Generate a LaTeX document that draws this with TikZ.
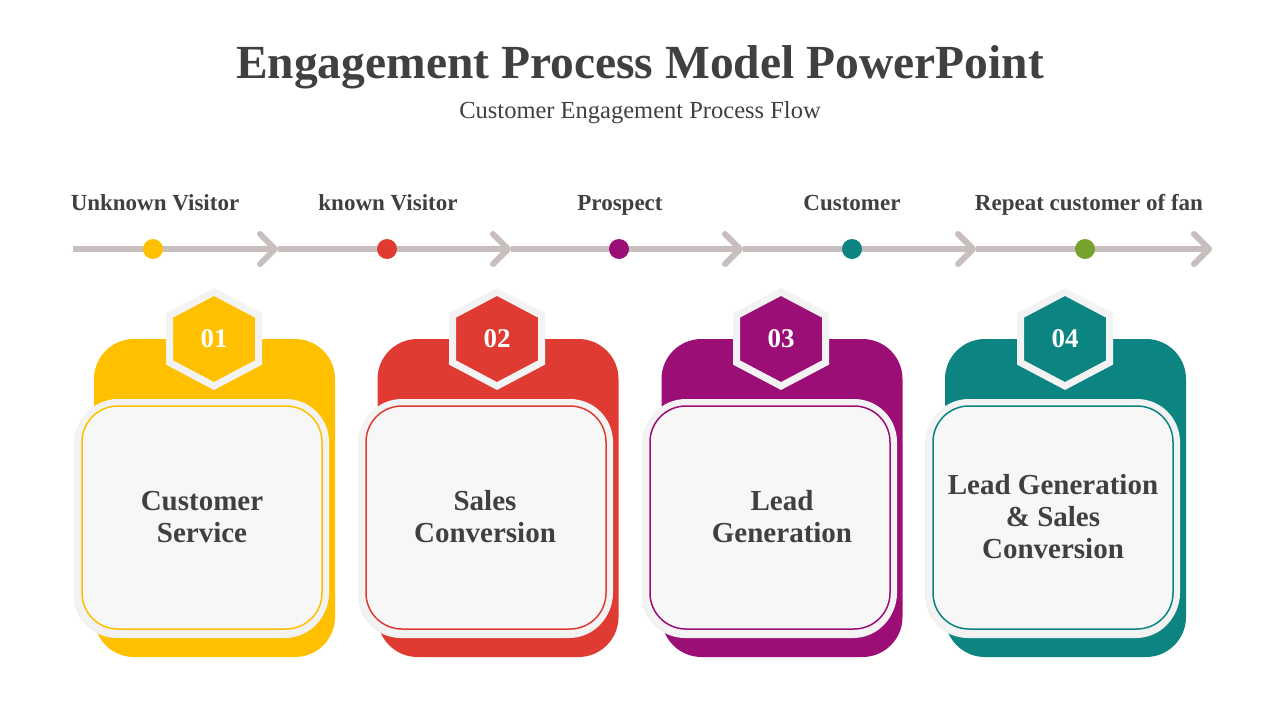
\documentclass[tikz,border=0pt]{standalone}
\usepackage{fontspec}
\setmainfont{Liberation Serif}
\usepackage{xcolor}
\usepackage{tikz}
\usetikzlibrary{arrows.meta, positioning}

\definecolor{yellowc}{HTML}{FFC000}
\definecolor{redc}{HTML}{E03B33}
\definecolor{purplec}{HTML}{9B0E76}
\definecolor{tealc}{HTML}{0C8582}
\definecolor{greenc}{HTML}{77A22D}
\definecolor{trackc}{HTML}{C8BEBE}
\definecolor{textc}{HTML}{404040}
\definecolor{cardbg}{HTML}{F7F7F7}
\definecolor{rimc}{HTML}{F3F3F3}

\begin{document}
\begin{tikzpicture}[x=1pt, y=-1pt,
    track/.style={draw=trackc, line width=6pt, -{Straight Barb[length=15pt, width=30pt, round]}},
    dot/.style={circle, fill=#1, minimum size=20pt, inner sep=0pt},
    stage/.style={anchor=base, font=\fontsize{23}{26}\selectfont\bfseries, text=textc},
    backcard/.style={rectangle, rounded corners=40pt, fill=#1, minimum width=241pt, minimum height=318pt, inner sep=0pt},
    frontcard/.style={rectangle, rounded corners=36pt, fill=cardbg, draw=#1, line width=1.5pt,
        minimum width=240pt, minimum height=223pt, inner sep=0pt,
        preaction={draw=black!6, line width=14pt, transform canvas={xshift=-1pt, yshift=-2pt}},
        preaction={draw=rimc, line width=14pt}},
    hexbadge/.style={fill=#1, draw=rimc, line width=7pt, line join=miter},
    num/.style={font=\fontsize{27}{30}\selectfont\bfseries, text=white},
    cardtxt/.style={font=\fontsize{29}{32}\selectfont\bfseries, text=textc, align=center}]
    \def\hexpath{++(0,-47) -- ++(44.5,23.5) -- ++(0,47) -- ++(-44.5,23.5) -- ++(-44.5,-23.5) -- ++(0,-47) -- cycle};
    \fill[white] (0,0) rectangle (1280,720);
    \useasboundingbox (0,0) rectangle (1280,720);
    \node[anchor=base, font=\fontsize{47.5}{52}\selectfont\bfseries, text=textc] (title) at (640,78) {Engagement Process Model PowerPoint};
    \node[anchor=base, font=\fontsize{24.5}{28}\selectfont, text=textc] (subtitle) at (640,118) {Customer Engagement Process Flow};
    \coordinate (t0) at (73,249);
    \coordinate (t1) at (278,249);
    \coordinate (t2) at (511,249);
    \coordinate (t3) at (743,249);
    \coordinate (t4) at (976,249);
    \coordinate (t5) at (1212,249);
    \draw[track] (t0) -- (t1);
    \draw[track] (t1) -- (t2);
    \draw[track] (t2) -- (t3);
    \draw[track] (t3) -- (t4);
    \draw[track] (t4) -- (t5);
    \node[dot=yellowc] (d1) at (153,249) {};
    \node[dot=redc] (d2) at (387,249) {};
    \node[dot=purplec] (d3) at (619,249) {};
    \node[dot=tealc] (d4) at (852,249) {};
    \node[dot=greenc] (d5) at (1085,249) {};
    \node[stage] (s1) at (155,210) {Unknown Visitor};
    \node[stage] (s2) at (388,210) {known Visitor};
    \node[stage] (s3) at (620,210) {Prospect};
    \node[stage] (s4) at (852,210) {Customer};
    \node[stage] (s5) at (1089,210) {Repeat customer of fan};
    \node[backcard=yellowc] (b1) at (214.5,498) {};
    \node[frontcard=yellowc] (c1) at (202,517.5) {};
    \node[cardtxt] (x1) at (202,517) {Customer\\Service};
    \coordinate (h1) at (214,339);
    \draw[hexbadge=yellowc] (h1) \hexpath;
    \node[num] (n1) at (h1) {01};
    \node[backcard=redc] (b2) at (498,498) {};
    \node[frontcard=redc] (c2) at (486,517.5) {};
    \node[cardtxt] (x2) at (485,517) {Sales\\Conversion};
    \coordinate (h2) at (497,339);
    \draw[hexbadge=redc] (h2) \hexpath;
    \node[num] (n2) at (h2) {02};
    \node[backcard=purplec] (b3) at (782,498) {};
    \node[frontcard=purplec] (c3) at (770,517.5) {};
    \node[cardtxt] (x3) at (782,517) {Lead\\Generation};
    \coordinate (h3) at (781,339);
    \draw[hexbadge=purplec] (h3) \hexpath;
    \node[num] (n3) at (h3) {03};
    \node[backcard=tealc] (b4) at (1065.5,498) {};
    \node[frontcard=tealc] (c4) at (1053,517.5) {};
    \node[cardtxt] (x4) at (1053,517) {Lead Generation\\\& Sales\\Conversion};
    \coordinate (h4) at (1065,339);
    \draw[hexbadge=tealc] (h4) \hexpath;
    \node[num] (n4) at (h4) {04};
\end{tikzpicture}
\end{document}
